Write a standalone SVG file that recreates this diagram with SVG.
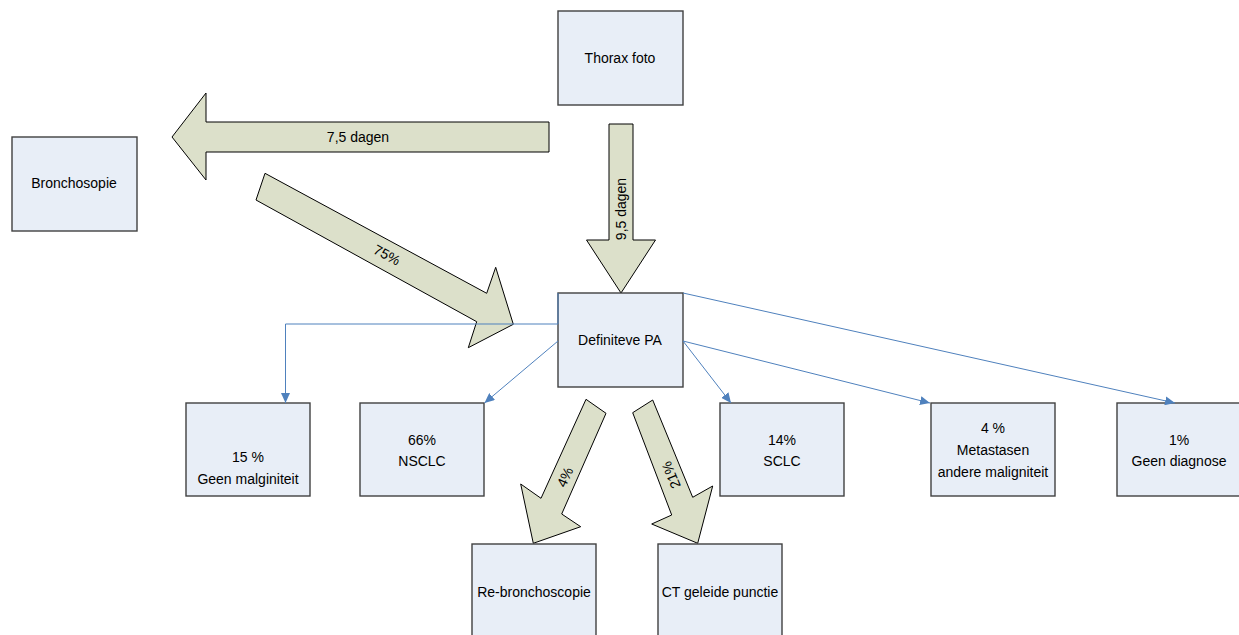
<svg xmlns="http://www.w3.org/2000/svg" width="1239" height="635" viewBox="0 0 1239 635">
<defs>
<style>
.box{fill:#E8EEF7;stroke:#404040;stroke-width:1.4}
.lbl{font-family:"Liberation Sans",Arial,sans-serif;font-size:14px;fill:#000;text-anchor:middle}
.blk{fill:#DCE0CA;stroke:#000;stroke-width:1}
.con{fill:none;stroke:#4F81BD;stroke-width:1}
</style>
<marker id="ah" markerUnits="userSpaceOnUse" markerWidth="11" markerHeight="9" refX="10" refY="4.5" orient="auto">
<path d="M0,0 L10,4.5 L0,9 Z" fill="#4F81BD"/>
</marker>
</defs>
<rect width="1239" height="635" fill="#fff"/>

<g id="block-arrows">
<g id="arrow-7-5-dagen">
<polygon class="blk" points="549,122 206,122 206,93 172,137 206,180 206,152 549,152"/>
<text class="lbl" x="358" y="142">7,5 dagen</text>
</g>
<g id="arrow-9-5-dagen">
<polygon class="blk" points="609,124 633,124 633,240 655.5,240 621,293 586.5,240 609,240"/>
<text class="lbl" transform="translate(621,209) rotate(-90)" dy="0.35em">9,5 dagen</text>
</g>
<g id="arrow-75">
<polygon class="blk" points="265,173.3 486.7,293.3 495.7,267.3 513.3,324.3 468.3,347.7 476.7,321.7 256,200"/>
<text class="lbl" transform="translate(387,255) rotate(28.4)" dy="0.35em">75%</text>
</g>
<g id="arrow-4">
<polygon class="blk" points="586,399.3 606,413.3 561.7,514 580.7,526.7 533.3,543.3 520.7,484 541,498.3"/>
<text class="lbl" transform="translate(565,477) rotate(-65.6)" dy="0.35em">4%</text>
</g>
<g id="arrow-21">
<polygon class="blk" points="652.7,400 692.7,497.3 712.7,486 697.7,543.3 651.7,524 671.7,515 632.7,412.7"/>
<text class="lbl" transform="translate(671,475) rotate(-112.4)" dy="0.35em">21%</text>
</g>
</g>

<g id="thorax-foto">
<rect class="box" x="558" y="11" width="125" height="94"/>
<text class="lbl" x="620" y="63">Thorax foto</text>
</g>
<g id="bronchosopie">
<rect class="box" x="12" y="137" width="125" height="94"/>
<text class="lbl" x="74" y="188">Bronchosopie</text>
</g>
<g id="definiteve-pa">
<rect class="box" x="558" y="293" width="125" height="94"/>
<text class="lbl" x="620" y="345">Definiteve PA</text>
</g>
<g id="geen-maligniteit">
<rect class="box" x="186" y="403" width="124" height="93"/>
<text class="lbl" x="248" y="462">15 %</text>
<text class="lbl" x="248" y="484">Geen malginiteit</text>
</g>
<g id="nsclc">
<rect class="box" x="360" y="403" width="124" height="93"/>
<text class="lbl" x="422" y="445">66%</text>
<text class="lbl" x="422" y="466">NSCLC</text>
</g>
<g id="sclc">
<rect class="box" x="720" y="403" width="124" height="93"/>
<text class="lbl" x="782" y="445">14%</text>
<text class="lbl" x="782" y="466">SCLC</text>
</g>
<g id="metastasen">
<rect class="box" x="931" y="403" width="124" height="93"/>
<text class="lbl" x="993" y="433">4 %</text>
<text class="lbl" x="993" y="455">Metastasen</text>
<text class="lbl" x="993" y="477">andere maligniteit</text>
</g>
<g id="geen-diagnose">
<rect class="box" x="1117" y="403" width="124" height="93"/>
<text class="lbl" x="1179" y="445">1%</text>
<text class="lbl" x="1179" y="466">Geen diagnose</text>
</g>
<g id="re-bronchoscopie">
<rect class="box" x="472" y="544" width="124" height="96"/>
<text class="lbl" x="534" y="597">Re-bronchoscopie</text>
</g>
<g id="ct-geleide-punctie">
<rect class="box" x="658" y="544" width="124" height="96"/>
<text class="lbl" x="720" y="597">CT geleide punctie</text>
</g>

<g id="connectors">
<path class="con" d="M558,293 V324 H285.5 V403" marker-end="url(#ah)"/>
<path class="con" d="M558,341 L484.5,403" marker-end="url(#ah)"/>
<path class="con" d="M683,341 L731,403" marker-end="url(#ah)"/>
<path class="con" d="M683,341 L930,403" marker-end="url(#ah)"/>
<path class="con" d="M683,293 L1175,403" marker-end="url(#ah)"/>
</g>
</svg>
